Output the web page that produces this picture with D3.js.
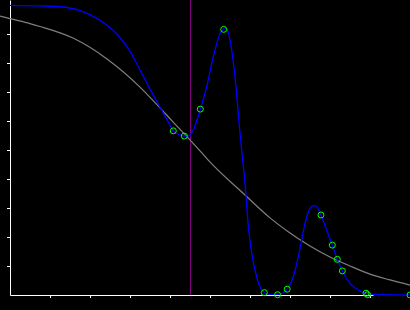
<!DOCTYPE html>
<html>
<head>
<meta charset="utf-8">
<script src="https://cdn.jsdelivr.net/npm/d3@7"></script>
<style>
  html, body { margin: 0; padding: 0; background: #000; overflow: hidden; }
  svg { display: block; }
</style>
</head>
<body>
<svg id="chart"></svg>
<script>
// observed samples (x, y)
const sampleX = [4.083, 4.358, 4.758, 5.342, 6.358, 6.69, 6.93, 7.775, 8.058, 8.183, 8.308, 8.9, 8.94, 10]
const sampleY = [0.566, 0.548, 0.641, 0.916, 0.008, 0.001, 0.020, 0.276, 0.172, 0.123, 0.083, 0.006, 0.001, 0]

// blue curve
const fitX = [0, 0.75, 1.25, 1.75, 2.0, 2.417, 2.75, 3.0, 3.25, 3.5, 3.75, 4.0, 4.083, 4.25, 4.358, 4.425,
  4.583, 4.758, 4.917, 5.083, 5.25, 5.342, 5.4, 5.5, 5.625, 5.75, 5.817, 5.875, 5.958, 6.042, 6.167,
  6.292, 6.358, 6.5, 6.7, 6.825, 6.933, 7.083, 7.208, 7.292, 7.375, 7.5, 7.583, 7.667, 7.775, 7.917,
  8.058, 8.183, 8.308, 8.5, 8.75, 8.9, 9.05, 10]
const fitY = [0.999, 0.997, 0.994, 0.981, 0.967, 0.931, 0.888, 0.840, 0.776, 0.710, 0.648, 0.586, 0.566, 0.552, 0.548, 0.547,
  0.569, 0.641, 0.718, 0.822, 0.902, 0.919, 0.922, 0.879, 0.753, 0.559, 0.466, 0.386, 0.238, 0.145, 0.062,
  0.017, 0.008, 0.002, 0.002, 0.007, 0.021, 0.063, 0.132, 0.190, 0.247, 0.299, 0.308, 0.304, 0.276, 0.224,
  0.172, 0.123, 0.083, 0.040, 0.014, 0.006, 0.002, 0]

// gray curve
const priorX = [-0.25, 0, 0.5, 0.75, 1.575, 2.425, 3.25, 3.75, 4.075, 4.75, 4.95, 5.875, 6.5, 7.0, 7.5, 8.0, 8.5, 9.0, 9.5, 10]
const priorY = [0.962, 0.953, 0.936, 0.926, 0.886, 0.814, 0.717, 0.645, 0.597, 0.497, 0.466, 0.345, 0.266, 0.214, 0.169, 0.131, 0.100, 0.072, 0.052, 0.034]

const markerX = 4.5
const xTicks = [1, 2, 3, 4, 5, 6, 7, 8, 9]
const yTicks = [0.1, 0.2, 0.3, 0.4, 0.5, 0.6, 0.7, 0.8, 0.9]

const svgWidth = 410
const svgHeight = 310
const svg = d3.select('#chart').attr('width', svgWidth).attr('height', svgHeight)
svg.append('rect').attr('width', svgWidth).attr('height', svgHeight).attr('fill', '#000')

const xScale = d3.scaleLinear().domain([0, 9]).range([10, 370])
const yScale = d3.scaleLinear().domain([0, 1]).range([295, 5])

const xAxisScale = xScale.copy().domain([0, 363 / 40]).range([10, 373])
const yAxisScale = yScale.copy().domain([0, 295 / 290]).range([295, 0])

svg.append('g')
    .attr('transform', 'translate(0,295)')
    .call(d3.axisBottom(xAxisScale).tickValues(xTicks).tickSize(3).tickSizeOuter(0).tickFormat(''))
    .call(g => g.selectAll('path, line').attr('stroke', '#fff'))

svg.append('g')
    .attr('transform', 'translate(10,0)')
    .call(d3.axisLeft(yAxisScale).tickValues(yTicks).tickSize(3).tickSizeOuter(0).tickFormat(''))
    .call(g => g.selectAll('path, line').attr('stroke', '#fff'))

svg.append('line')
    .attr('x1', xScale(markerX) + 0.5).attr('x2', xScale(markerX) + 0.5)
    .attr('y1', 0).attr('y2', yScale(0))
    .attr('stroke', '#800080')
    .attr('stroke-width', 1)

const line = d3.line()
    .x(d => xScale(d[0]))
    .y(d => yScale(d[1]))
    .curve(d3.curveMonotoneX)

svg.append('path')
    .datum(d3.zip(priorX, priorY))
    .attr('d', line)
    .attr('fill', 'none')
    .attr('stroke', '#808080')
    .attr('stroke-width', 1.2)

svg.append('path')
    .datum(d3.zip(fitX, fitY))
    .attr('d', line)
    .attr('fill', 'none')
    .attr('stroke', '#0000ff')
    .attr('stroke-width', 1.3)

svg.selectAll('circle')
    .data(d3.zip(sampleX, sampleY))
    .join('circle')
    .attr('cx', d => xScale(d[0]))
    .attr('cy', d => yScale(d[1]))
    .attr('r', 3)
    .attr('fill', 'none')
    .attr('stroke', '#00ff00')
    .attr('stroke-width', 1)
</script>
</body>
</html>
